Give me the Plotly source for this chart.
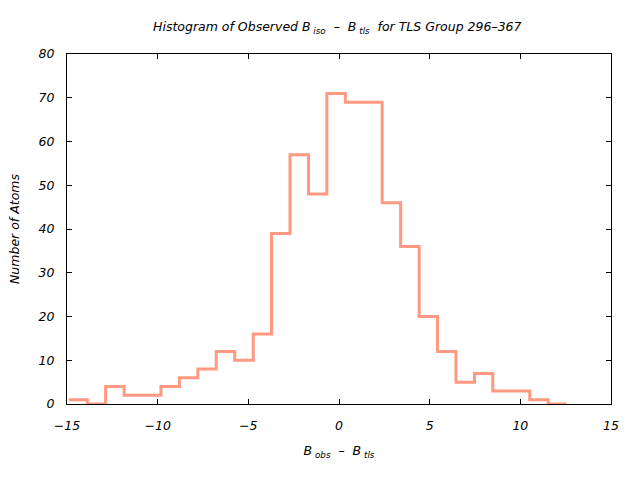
import plotly.graph_objects as go

# Histogram bin edges (B_obs - B_tls) and counts
bin_edges = [-14.9, -13.88, -12.87, -11.85, -10.83, -9.82, -8.80, -7.78, -6.77,
             -5.75, -4.73, -3.72, -2.70, -1.68, -0.67, 0.35, 1.37, 2.38, 3.40,
             4.42, 5.43, 6.45, 7.47, 8.48, 9.50, 10.52, 11.53, 12.55]
counts = [1, 0, 4, 2, 2, 4, 6, 8, 12, 10, 16, 39, 57, 48, 71, 69, 69, 46, 36,
          20, 12, 5, 7, 3, 3, 1, 0]

x_ticks = [-15, -10, -5, 0, 5, 10, 15]
y_ticks = [0, 10, 20, 30, 40, 50, 60, 70, 80]

FONT = "DejaVu Sans"
NB = "\u00a0"

fig = go.Figure()
fig.add_trace(go.Scatter(
    x=bin_edges,
    y=counts + [counts[-1]],
    mode="lines",
    line=dict(shape="hv", color="#FF9980", width=3),
    showlegend=False,
    hoverinfo="skip",
))

axis_common = dict(
    showline=True, linecolor="black", linewidth=1, mirror="ticks",
    ticks="inside", ticklen=5, tickcolor="black", tickwidth=1,
    showgrid=False, zeroline=False,
    tickfont=dict(family=FONT, size=12.5, color="black", style="italic"),
)

fig.update_layout(
    width=640, height=480,
    margin=dict(l=67, r=29, t=54, b=76),
    paper_bgcolor="white", plot_bgcolor="white",
    title=dict(
        text=f"Histogram of Observed B<sub>{NB}iso</sub>{NB}{NB}\u2013{NB}{NB}B<sub>{NB}tls</sub>{NB} for TLS Group 296\u2013367",
        x=0.527, xanchor="center", y=1 - 27 / 480, yanchor="middle",
        font=dict(family=FONT, size=12.5, color="black", style="italic"),
    ),
    xaxis=dict(
        range=[-15, 15], tickvals=x_ticks, ticklabelstandoff=10,
        title=dict(text=f"B<sub>{NB}obs</sub>{NB}{NB}\u2013{NB}{NB}B<sub>{NB}tls</sub>", standoff=14,
                   font=dict(family=FONT, size=12.5, color="black", style="italic")),
        **axis_common,
    ),
    yaxis=dict(
        range=[0, 80], tickvals=y_ticks, ticklabelstandoff=9,
        title=dict(text="Number of Atoms", standoff=16,
                   font=dict(family=FONT, size=12.5, color="black", style="italic")),
        **axis_common,
    ),
)

fig.write_html("out.html")
